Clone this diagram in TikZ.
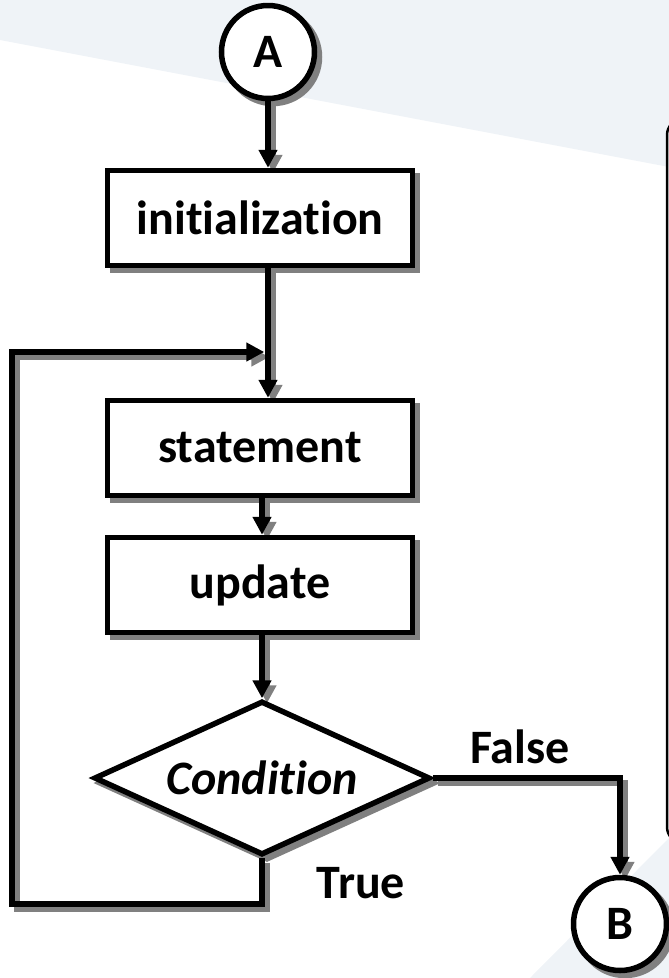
\documentclass[tikz,border=0pt]{standalone}
\usepackage{fontspec}
\setmainfont{Carlito}[Ligatures=CommonOff]
\usetikzlibrary{arrows.meta,shapes.geometric,shadows}
\definecolor{bgtint}{HTML}{EFF3F7}
\definecolor{shadowgray}{HTML}{808080}
\pgfdeclarelayer{back}
\pgfdeclarelayer{shade}
\pgfsetlayers{back,shade,main}

\tikzset{
  flow/.style={line width=5.5pt, draw=black, fill=white, inner sep=0pt,
    font=\bfseries\fontsize{48}{57}\selectfont,
    drop shadow={shadow xshift=5pt, shadow yshift=-5pt, fill=shadowgray,
      draw=shadowgray, line width=5.5pt, opacity=1}},
  procbox/.style={flow, rectangle, minimum width=305pt, minimum height=95pt},
  connector/.style={flow, circle, minimum size=93pt},
  decision/.style={flow, diamond, shape aspect=2.17, minimum width=336pt,
    minimum height=154pt, font=\bfseries\itshape\fontsize{48}{57}\selectfont},
  link/.style={line width=5.5pt, -{Triangle[width=18pt,length=18pt]}},
  tag/.style={font=\bfseries\fontsize{48}{57}\selectfont, inner sep=0pt, anchor=base},
}

% all connectors of the flow chart, drawn in the given colour
\newcommand\flowlinks[1]{%
  \draw[link,#1] (A.south) -- (A.south |- init.north);
  \draw[link,#1] (init.south -| A) -- (stmt.north -| A);
  \draw[link,#1] (stmt.south -| cond) -- (upd.north -| cond);
  \draw[link,#1] (upd.south -| cond) -- (cond.north);
  \draw[link,#1] (cond.south) |- (loopbl) -- (looptl) -- ([xshift=-2.75pt]join);
  \draw[link,#1] (cond.east) -| (B.north);
}

\begin{document}
\begin{tikzpicture}[x=1pt,y=-1pt]
  \useasboundingbox (0,0) rectangle (669,978);

  % background tint and side panel
  \begin{pgfonlayer}{back}
    \fill[bgtint] (0,0) -- (669,0) -- (669,167) -- (0,40) -- cycle;
    \fill[bgtint] (669,838) -- (669,978) -- (530,978) -- cycle;
    \begin{scope}
      \clip (0,0) rectangle (669,978);
      \draw[line width=2.5pt, fill=white, rounded corners=16pt]
        (667,119) rectangle (720,843);
    \end{scope}
  \end{pgfonlayer}

  % flow chart nodes
  \node[connector] (A) at (268,52) {A};
  \node[procbox] (init) at (260,218) {initialization};
  \node[procbox] (stmt) at (260,448) {statement};
  \node[procbox] (upd) at (260,585) {update};
  \node[decision] (cond) at (262,778) {Condition};
  \node[connector] (B) at (620,924) {B};

  \node[tag] (truelbl) at (361,898) {True};
  \node[tag] (falselbl) at (520,763) {False};

  % loop-back route
  \coordinate (join) at (267,352);
  \coordinate (looptl) at (12,352);
  \coordinate (loopbl) at (12,904);

  % connector shadows, then connectors
  \begin{pgfonlayer}{shade}
    \begin{scope}[transform canvas={shift={(5pt,-5pt)}}]
      \flowlinks{shadowgray}
    \end{scope}
  \end{pgfonlayer}
  \flowlinks{black}
\end{tikzpicture}
\end{document}
